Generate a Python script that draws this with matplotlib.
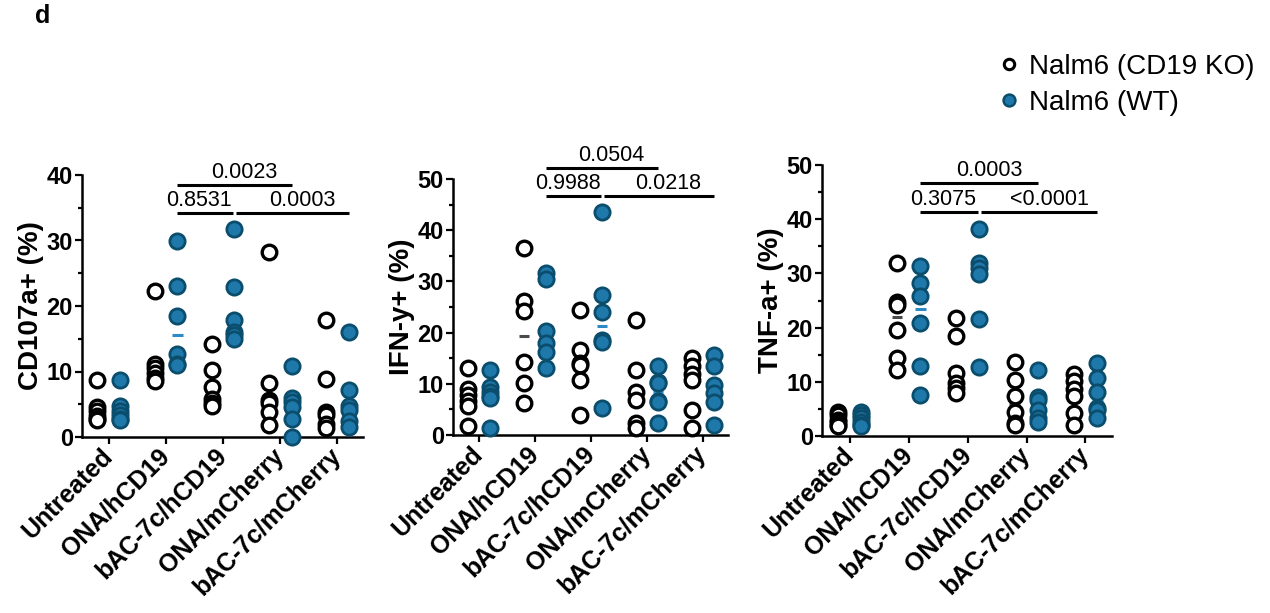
import numpy as np
import matplotlib
matplotlib.use("Agg")
import matplotlib.pyplot as plt
from matplotlib.lines import Line2D

plt.rcParams['font.family'] = ['Liberation Sans', 'DejaVu Sans']

categories = ['Untreated', 'ONA/hCD19', 'bAC-7c/hCD19', 'ONA/mCherry', 'bAC-7c/mCherry']
series_names = ['Nalm6 (CD19 KO)', 'Nalm6 (WT)']

cd107a_ko = [[8.7, 4.6, 3.9, 3.2, 2.8, 2.6], [22.3, 11.2, 10.5, 9.8, 9.0, 8.5],
             [14.2, 10.3, 7.7, 5.8, 5.2, 4.8], [28.3, 8.3, 5.6, 5.2, 3.8, 1.8],
             [17.9, 8.8, 3.8, 3.3, 2.0, 1.3]]
cd107a_wt = [[8.7, 4.8, 4.0, 3.4, 2.8, 2.6], [29.9, 23.1, 18.5, 12.7, 11.2, 11.0],
             [31.7, 22.9, 17.9, 16.1, 15.5, 15.0], [10.8, 5.9, 5.4, 4.6, 2.8, 0.0],
             [16.1, 7.1, 4.8, 4.1, 2.5, 1.6]]

ifng_ko = [[13.1, 9.0, 7.8, 6.7, 5.7, 1.7], [36.5, 26.1, 24.3, 14.3, 10.1, 6.3],
           [24.4, 16.6, 14.0, 13.7, 10.8, 3.9], [22.4, 12.7, 8.4, 6.8, 2.3, 1.3],
           [15.0, 13.4, 12.0, 10.8, 4.9, 1.4]]
ifng_wt = [[12.7, 9.4, 8.4, 7.6, 7.2, 1.3], [31.6, 30.4, 20.3, 17.9, 16.3, 13.0],
           [43.5, 27.4, 24.0, 18.5, 18.1, 5.2], [13.5, 10.4, 10.1, 6.6, 6.4, 2.4],
           [15.6, 13.5, 9.8, 8.3, 6.4, 2.0]]

tnfa_ko = [[4.5, 3.8, 3.0, 2.5, 2.1, 1.8], [31.9, 24.8, 24.2, 19.6, 14.3, 12.1],
           [21.7, 18.5, 11.6, 9.7, 8.8, 7.9], [13.6, 10.3, 7.4, 4.4, 2.4, 2.0],
           [11.4, 10.2, 8.6, 7.4, 4.2, 2.0]]
tnfa_wt = [[4.5, 3.9, 3.3, 2.6, 2.1, 1.8], [31.4, 28.2, 25.8, 20.9, 12.9, 7.6],
           [38.1, 31.9, 31.0, 29.9, 21.6, 12.7], [12.2, 7.2, 6.6, 4.8, 3.3, 2.6],
           [13.4, 10.7, 8.1, 5.2, 4.8, 3.3]]

ylabels = ['CD107a+ (%)', 'IFN-y+ (%)', 'TNF-a+ (%)']
ymaxes = [40, 50, 50]
yticks_list = [[0, 10, 20, 30, 40], [0, 10, 20, 30, 40, 50], [0, 10, 20, 30, 40, 50]]

# comparisons: (group i, group j, label, bar y)
comps_cd107a = [(1, 3, '0.0023', 38.5), (1, 2, '0.8531', 34.2), (2, 4, '0.0003', 34.2)]
comps_ifng = [(1, 3, '0.0504', 52.1), (1, 2, '0.9988', 46.7), (2, 4, '0.0218', 46.7)]
comps_tnfa = [(1, 3, '0.0003', 46.7), (1, 2, '0.3075', 41.3), (2, 4, '<0.0001', 41.3)]

panels = [
    (cd107a_ko, cd107a_wt, comps_cd107a),
    (ifng_ko, ifng_wt, comps_ifng),
    (tnfa_ko, tnfa_wt, comps_tnfa),
]

W, H = 1270, 613
fig = plt.figure(figsize=(W / 100, H / 100), dpi=100)

# axes boxes in pixels: left, right, bottom(y=0), top(y=max)
boxes = [(82, 363, 437, 175), (453, 728, 435, 179), (822, 1112, 436, 165)]

blue_fill = '#1f78aa'
blue_edge = '#0b4d6c'
blue_med = '#2b8ac6'
grey_med = '#4a4a4a'
off = 0.2
label_dx = [0.17, -0.1, 0.17]

for k, (ko, wt, comps) in enumerate(panels):
    l, r, b, t = boxes[k]
    ax = fig.add_axes([l / W, (H - b) / H, (r - l) / W, (b - t) / H])
    x = np.arange(len(categories))
    for i in range(len(categories)):
        mk = np.median(ko[i])
        mw = np.median(wt[i])
        ax.plot([x[i] - off - 0.09, x[i] - off + 0.09], [mk, mk], color=grey_med, lw=2.2,
                zorder=2, solid_capstyle='butt')
        ax.plot([x[i] + off - 0.09, x[i] + off + 0.09], [mw, mw], color=blue_med, lw=2.2,
                zorder=2, solid_capstyle='butt')
        ax.plot(np.full(len(ko[i]), x[i] - off), ko[i], ls='none', marker='o', ms=10.5,
                mfc='white', mec='black', mew=2.4, zorder=3, clip_on=False)
        ax.plot(np.full(len(wt[i]), x[i] + off), wt[i], ls='none', marker='o', ms=11,
                mfc=blue_fill, mec=blue_edge, mew=2.0, zorder=4, clip_on=False)

    ax.set_xlim(-0.47, 4.45)
    ax.set_ylim(0, ymaxes[k])
    ax.set_yticks(yticks_list[k])
    ax.set_yticks(np.arange(5, ymaxes[k], 10), minor=True)
    ax.set_xticks(x)
    ax.set_xticklabels(categories, rotation=45, ha='right', va='center',
                       rotation_mode='anchor', fontsize=18, fontweight='bold')
    for lab in ax.get_yticklabels():
        lab.set_fontweight('bold')
        lab.set_fontsize(17)
    ax.tick_params(axis='both', which='major', direction='out', length=5, width=1.6, pad=1.5)
    ax.tick_params(axis='y', which='minor', direction='out', length=3, width=1.6)
    ax.tick_params(axis='x', which='major', pad=6)
    for s in ['top', 'right']:
        ax.spines[s].set_visible(False)
    for s in ['left', 'bottom']:
        ax.spines[s].set_linewidth(1.8)
    ax.set_ylabel(ylabels[k], fontsize=20, fontweight='bold', labelpad=2)

    for n, (i, j, txt, yb) in enumerate(comps):
        x0 = i + off
        x1 = j + off
        if n == 1:
            x1 -= 0.03
        if n == 2:
            x0 += 0.03
        ax.plot([x0, x1], [yb, yb], color='black', lw=2.2, clip_on=False,
                solid_capstyle='butt')
        ax.annotate(txt, xy=((x0 + x1) / 2 + label_dx[n], yb), xytext=(0, 1.5),
                    textcoords='offset points', ha='center', va='bottom',
                    fontsize=15.5, annotation_clip=False)

fig.text(35 / W, 1 - 4 / H, 'd', fontsize=18, fontweight='bold', ha='left', va='top')

handles = [
    Line2D([], [], ls='none', marker='o', ms=7.5, mfc='white', mec='black', mew=2.2),
    Line2D([], [], ls='none', marker='o', ms=8.5, mfc=blue_fill, mec=blue_edge, mew=1.8),
]
fig.legend(handles, series_names, loc='upper left', bbox_to_anchor=(1001 / W, 1 - 54 / H),
           frameon=False, fontsize=20, handlelength=0.6, handletextpad=0.4,
           borderpad=0, borderaxespad=0, labelspacing=0.35)

fig.savefig('out.png', dpi=100)
